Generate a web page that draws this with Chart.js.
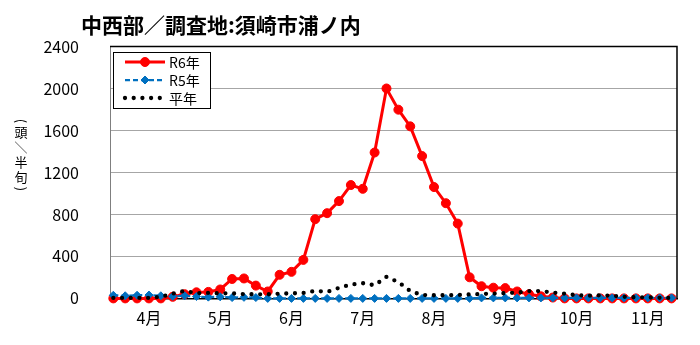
<!DOCTYPE html>
<html>
<head>
<meta charset="utf-8">
<script src="https://cdn.jsdelivr.net/npm/chart.js@4/dist/chart.umd.min.js"></script>
<style>
  html, body { margin: 0; padding: 0; background: #fff; }
</style>
</head>
<body>
<canvas id="chart" width="700" height="345"></canvas>
<script>
const FONT = '"Noto Sans CJK JP", "Noto Sans", sans-serif';

// 半旬 (5-day) counts, April 1st half-pentad through November (6 per month)
const monthLabels = ['4月', '5月', '6月', '7月', '8月', '9月', '10月', '11月'];
const seriesNames = ['R6年', 'R5年', '平年'];

const r6 = [0, 0, 0, 0, 0, 15, 40, 58, 62, 85, 185, 190, 122, 66,
  225, 253, 367, 755, 812, 927, 1080, 1044, 1390, 2000, 1798, 1639,
  1356, 1061, 907, 713, 201, 116, 102, 98, 66, 40, 20, 8,
  0, 0, 0, 0, 0, 0, 0, 0, 0, 0];
const r5 = [30, 25, 30, 32, 25, 20, 25, 18, 12, 15, 8, 10, 8, 0,
  0, 0, 0, 0, 0, 0, 0, 0, 0, 0, 0, 0,
  0, 0, 0, 0, 0, 5, 5, 5, 5, 5, 5, 5,
  5, 5, 5, 5, 5, 5, 5, 5, 5, 5];
const heinen = [5, 5, 5, 5, 15, 45, 72, 50, 52, 48, 48, 40, 39, 39,
  45, 48, 52, 72, 62, 100, 132, 145, 125, 205, 155, 70,
  32, 30, 30, 32, 38, 42, 45, 50, 55, 70, 70, 55,
  45, 30, 25, 30, 25, 15, 10, 10, 5, 5];

// vertical y title; punctuation is turned a quarter to sit upright in a column
const yTitle = ['(', '頭', '／', '半', '旬', ')'];
const rotated = ['(', '／', ')'];

const toPoints = arr => arr.map((v, i) => ({ x: i, y: v }));

// title, vertical y title, frame and boxed legend
const decorations = {
  id: 'decorations',
  afterDraw(chart) {
    const ctx = chart.ctx;
    const area = chart.chartArea;
    ctx.save();

    // top / right frame of the plot
    ctx.strokeStyle = '#000';
    ctx.lineWidth = 1.5;
    ctx.beginPath();
    ctx.moveTo(area.left, area.top);
    ctx.lineTo(area.right, area.top);
    ctx.lineTo(area.right, area.bottom);
    ctx.stroke();

    ctx.fillStyle = '#000';
    ctx.textBaseline = 'middle';
    ctx.font = 'bold 21px ' + FONT;
    ctx.fillText('中西部／調査地:須崎市浦ノ内', 81, 25);

    // stacked vertical axis title
    ctx.font = '13px ' + FONT;
    ctx.textAlign = 'center';
    let y = 121;
    yTitle.forEach((ch, i) => {
      ctx.save();
      ctx.translate(21, y);
      if (rotated.includes(ch)) ctx.rotate(Math.PI / 2);
      ctx.fillText(ch, 0, 0);
      ctx.restore();
      const paren = ch === '(' || yTitle[i + 1] === ')';
      y += paren ? 11.5 : 15;
    });

    // legend box
    ctx.textAlign = 'left';
    ctx.fillStyle = '#fff';
    ctx.fillRect(113, 52, 97, 56);
    ctx.strokeStyle = '#000';
    ctx.lineWidth = 1;
    ctx.strokeRect(113.5, 52.5, 97, 56);

    chart.data.datasets.forEach((ds, i) => {
      const ry = 62 + i * 18;
      ctx.save();
      ctx.strokeStyle = ds.borderColor;
      ctx.lineWidth = ds.borderWidth;
      ctx.lineCap = ds.borderCapStyle || 'butt';
      ctx.setLineDash(ds.borderDash || []);
      ctx.beginPath();
      ctx.moveTo(125, ry);
      ctx.lineTo(165, ry);
      ctx.stroke();
      ctx.restore();
      if (ds.pointRadius > 0) {
        ctx.save();
        ctx.fillStyle = ds.pointBackgroundColor;
        ctx.strokeStyle = ds.pointBorderColor;
        ctx.lineWidth = ds.pointBorderWidth;
        Chart.helpers.drawPoint(ctx, {
          pointStyle: ds.pointStyle,
          radius: ds.pointRadius,
          borderWidth: ds.pointBorderWidth,
          rotation: 0
        }, 145, ry);
        ctx.restore();
      }
      ctx.fillStyle = '#000';
      ctx.font = '14px ' + FONT;
      ctx.fillText(ds.label, 169, ry + 0.5);
    });
    ctx.restore();
  }
};

new Chart(document.getElementById('chart'), {
  type: 'line',
  data: {
    datasets: [
      {
        label: seriesNames[0],
        data: toPoints(r6),
        borderColor: '#FF0000',
        backgroundColor: '#FF0000',
        borderWidth: 3,
        pointStyle: 'circle',
        pointRadius: 4.5,
        pointBorderWidth: 1,
        pointBackgroundColor: '#FF0000',
        pointBorderColor: '#FF0000',
        clip: false,
        order: 3
      },
      {
        label: seriesNames[1],
        data: toPoints(r5),
        borderColor: '#0070C0',
        backgroundColor: '#0070C0',
        borderWidth: 2.25,
        borderDash: [5, 3],
        pointStyle: 'rectRot',
        pointRadius: 4,
        pointBorderWidth: 1,
        pointBackgroundColor: '#0070C0',
        pointBorderColor: '#0070C0',
        clip: false,
        order: 2
      },
      {
        label: seriesNames[2],
        data: toPoints(heinen),
        borderColor: '#000',
        backgroundColor: '#000',
        borderWidth: 4.3,
        borderDash: [0, 8.7],
        borderCapStyle: 'round',
        pointRadius: 0,
        clip: false,
        order: 1
      }
    ]
  },
  options: {
    responsive: false,
    animation: false,
    tension: 0,
    layout: { padding: { top: 46.5, right: 23, left: 0, bottom: 0 } },
    plugins: {
      legend: { display: false },
      tooltip: { enabled: false }
    },
    scales: {
      x: {
        type: 'linear',
        min: -0.28,
        max: 47.46,
        afterFit: s => { s.height = 46.6; },
        afterBuildTicks: s => {
          s.ticks = monthLabels.map((_, m) => ({ value: 3 + m * 6 }));
        },
        grid: { display: false },
        border: { color: '#000', width: 1.5 },
        ticks: {
          autoSkip: false,
          maxRotation: 0,
          padding: 2,
          color: '#000',
          font: { family: FONT, size: 16 },
          callback: v => monthLabels[Math.round((v - 3) / 6)]
        }
      },
      y: {
        min: 0,
        max: 2400,
        afterFit: s => { s.width = 110; },
        grid: { color: '#A6A6A6', lineWidth: 1, drawTicks: false },
        border: { color: '#7F7F7F', width: 1 },
        ticks: {
          stepSize: 400,
          padding: 31,
          color: '#000',
          font: { family: FONT, size: 16 },
          callback: v => String(v)
        }
      }
    }
  },
  plugins: [decorations]
});
</script>
</body>
</html>
